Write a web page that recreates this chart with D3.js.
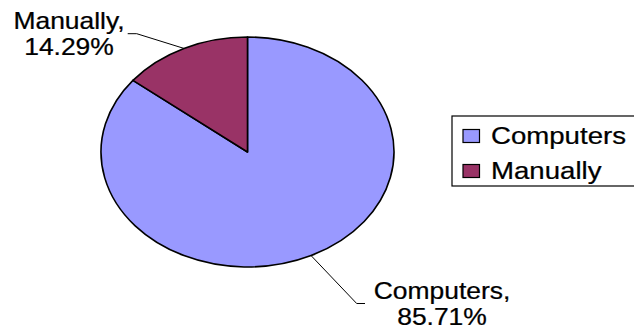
<!DOCTYPE html>
<html>
<head>
<meta charset="utf-8">
<script src="https://cdn.jsdelivr.net/npm/d3@7"></script>
<style>
  html, body { margin: 0; padding: 0; background: #ffffff; }
  svg { display: block; }
  text { font-family: "Liberation Sans", Arial, sans-serif; fill: #000; }
</style>
</head>
<body>
<svg id="chart" width="634" height="329"></svg>
<script>
// ---- data ----
const categories = ["Computers", "Manually"];
const values = [85.71, 14.29];
const colors = ["#9999FF", "#993366"];
const labelTexts = ["Computers,\n85.71%", "Manually,\n14.29%"];

// ---- layout ----
const cx = 247.5, cy = 152, ry = 115, rx = 146.5;
const sx = rx / ry;          // horizontal stretch of the original picture
const textSX = 1.15;         // horizontal stretch applied to text
// leader elbows / label anchors (layout, per category)
const labelLayout = [
  { elbow: [356.7, 303.5], end: [365, 303.5], tx: 442, ty: 299, dy: 25.5 },
  { elbow: [136.7, 33.7],  end: [127.7, 33.7], tx: 69,  ty: 28.5, dy: 26.5 }
];

const svg = d3.select("#chart");

const pie = d3.pie().sort(null).startAngle(0).endAngle(2 * Math.PI);
const arcs = pie(values);
const arc = d3.arc().innerRadius(0).outerRadius(ry);

const g = svg.append("g").attr("transform", `translate(${cx},${cy}) scale(${sx},1)`);
g.selectAll("path")
  .data(arcs)
  .join("path")
  .attr("d", arc)
  .attr("fill", (d, i) => colors[i])
  .attr("stroke", "#000")
  .attr("stroke-width", 1.6)
  .attr("vector-effect", "non-scaling-stroke")
  .attr("stroke-linejoin", "round");

// leader lines and labels
const edgePoint = a => [cx + rx * Math.sin(a), cy - ry * Math.cos(a)];
arcs.forEach((d, i) => {
  const mid = (d.startAngle + d.endAngle) / 2;
  const p0 = edgePoint(mid);
  const L = labelLayout[i];
  svg.append("path")
    .attr("d", d3.line()([p0, L.elbow, L.end]))
    .attr("fill", "none")
    .attr("stroke", "#000")
    .attr("stroke-width", 1);
  labelTexts[i].split("\n").forEach((t, j) => {
    svg.append("text")
      .attr("transform", `translate(${L.tx},${L.ty + j * L.dy}) scale(${textSX},1)`)
      .attr("text-anchor", "middle")
      .attr("font-size", 23)
      .attr("stroke", "#000").attr("stroke-width", 0.25)
      .text(t);
  });
});

// legend
const lg = svg.append("g");
lg.append("rect")
  .attr("x", 452).attr("y", 116)
  .attr("width", 200).attr("height", 70)
  .attr("fill", "#fff").attr("stroke", "#000").attr("stroke-width", 1.2);
const ly = d3.scalePoint().domain(categories).range([136, 171]);
categories.forEach((c, i) => {
  lg.append("rect")
    .attr("x", 463).attr("y", ly(c) - 6.5)
    .attr("width", 16.5).attr("height", 13)
    .attr("fill", colors[i]).attr("stroke", "#000").attr("stroke-width", 1.2);
  lg.append("text")
    .attr("transform", `translate(491,${ly(c) + 8}) scale(${textSX},1)`)
    .attr("font-size", 24)
    .attr("stroke", "#000").attr("stroke-width", 0.25)
    .text(c);
});
</script>
</body>
</html>
